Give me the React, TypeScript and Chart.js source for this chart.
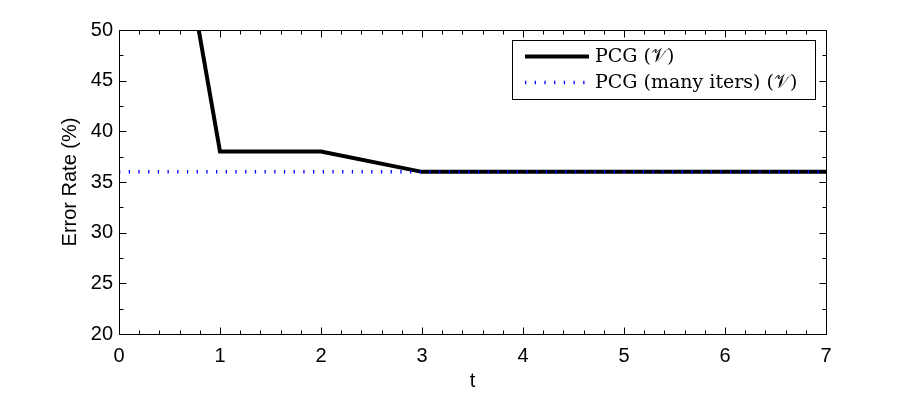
import React, { useEffect, useRef } from "react";
import { Chart, registerables } from "chart.js";

Chart.register(...registerables);

const tValues = [0, 1, 2, 3, 4, 5, 6, 7];
const pcgError = [95, 38, 38, 36, 36, 36, 36, 36];
const pcgManyError = [36, 36, 36, 36, 36, 36, 36, 36];
const seriesLabels = ["PCG (\u{1D4B1})", "PCG (many iters) (\u{1D4B1})"];
const yTicks = [20, 25, 30, 35, 40, 45, 50];
const xTicks = [0, 1, 2, 3, 4, 5, 6, 7];

const SANS = "'Liberation Sans', Arial, Helvetica, sans-serif";
const SERIF = "'DejaVu Serif', 'Liberation Serif', serif";

const boxPlugin = {
  id: "boxTicks",
  afterDatasetsDraw(chart: any) {
    const { ctx, chartArea: a, scales } = chart;
    const x = scales.x;
    const y = scales.y;
    ctx.save();
    ctx.strokeStyle = "#000";
    ctx.lineWidth = 1;
    ctx.beginPath();
    const L = Math.round(a.left) + 0.5;
    const R = Math.round(a.right) + 0.5;
    const T = Math.round(a.top) + 0.5;
    const B = Math.round(a.bottom) + 0.5;
    ctx.rect(L, T, R - L, B - T);
    for (let i = 0; i <= 35; i++) {
      const v = i * 0.2;
      const px = Math.round(x.getPixelForValue(v)) + 0.5;
      const len = i % 5 === 0 ? 7 : 4;
      ctx.moveTo(px, B);
      ctx.lineTo(px, B - len);
      ctx.moveTo(px, T);
      ctx.lineTo(px, T + len);
    }
    for (let i = 0; i <= 12; i++) {
      const v = 20 + i * 2.5;
      const py = Math.round(y.getPixelForValue(v)) + 0.5;
      const len = i % 2 === 0 ? 7 : 4;
      ctx.moveTo(L, py);
      ctx.lineTo(L + len, py);
      ctx.moveTo(R, py);
      ctx.lineTo(R - len, py);
    }
    ctx.stroke();

    // legend
    const lx = 512, ly = 40, lw = 303, lh = 59;
    ctx.fillStyle = "#fff";
    ctx.fillRect(lx, ly, lw, lh);
    ctx.strokeRect(lx + 0.5, ly + 0.5, lw, lh);
    const rows = [56, 82];
    chart.data.datasets.forEach((ds: any, i: number) => {
      const ry = rows[i] + 0.5;
      ctx.save();
      ctx.strokeStyle = ds.borderColor;
      ctx.lineWidth = ds.borderWidth;
      ctx.setLineDash(ds.borderDash || []);
      ctx.beginPath();
      ctx.moveTo(525, ry);
      ctx.lineTo(589, ry);
      ctx.stroke();
      ctx.restore();
      ctx.fillStyle = "#000";
      ctx.font = `19px ${SERIF}`;
      ctx.textBaseline = "middle";
      ctx.textAlign = "left";
      ctx.fillText(ds.label, 595, rows[i] + 1);
    });
    ctx.restore();
  },
};

export default function App() {
  const ref = useRef<HTMLCanvasElement>(null);
  useEffect(() => {
    document.body.style.margin = "0";
    const chart = new Chart(ref.current!, {
      type: "line",
      data: {
        labels: tValues,
        datasets: [
          {
            label: seriesLabels[0],
            data: tValues.map((t, i) => ({ x: t, y: pcgError[i] })),
            borderColor: "#000",
            borderWidth: 4,
            pointRadius: 0,
            fill: false,
            order: 2,
          },
          {
            label: seriesLabels[1],
            data: tValues.map((t, i) => ({ x: t, y: pcgManyError[i] })),
            borderColor: "#0000ff",
            borderWidth: 3.5,
            borderDash: [1.3, 8.4],
            pointRadius: 0,
            fill: false,
            order: 1,
          },
        ],
      },
      options: {
        animation: false,
        responsive: false,
        layout: { padding: { top: 30, right: 87, left: 58, bottom: 0 } },
        plugins: { legend: { display: false }, tooltip: { enabled: false } },
        scales: {
          x: {
            type: "linear",
            min: 0,
            max: 7,
            afterBuildTicks: (s: any) => {
              s.ticks = xTicks.map((v) => ({ value: v }));
            },
            afterFit: (s: any) => {
              s.height = 60;
            },
            grid: { display: false, drawTicks: false },
            border: { display: false },
            ticks: { color: "#000", font: { family: SANS, size: 20 }, padding: 10, maxRotation: 0 },
            title: {
              display: true,
              text: "t",
              color: "#000",
              font: { family: SANS, size: 20 },
              padding: { top: 0, bottom: 1 },
            },
          },
          y: {
            min: 20,
            max: 50,
            afterBuildTicks: (s: any) => {
              s.ticks = yTicks.map((v) => ({ value: v }));
            },
            afterFit: (s: any) => {
              s.width = 61;
            },
            grid: { display: false, drawTicks: false },
            border: { display: false },
            ticks: { color: "#000", font: { family: SANS, size: 20 }, padding: 6 },
            title: {
              display: true,
              text: "Error Rate (%)",
              color: "#000",
              font: { family: SANS, size: 20 },
              padding: { top: 0, bottom: 0 },
            },
          },
        },
      },
      plugins: [boxPlugin],
    } as any);
    return () => chart.destroy();
  }, []);
  return (
    <div style={{ position: "relative", width: 913, height: 394, background: "#fff" }}>
      <canvas ref={ref} width={913} height={394} style={{ display: "block" }} />
    </div>
  );
}
